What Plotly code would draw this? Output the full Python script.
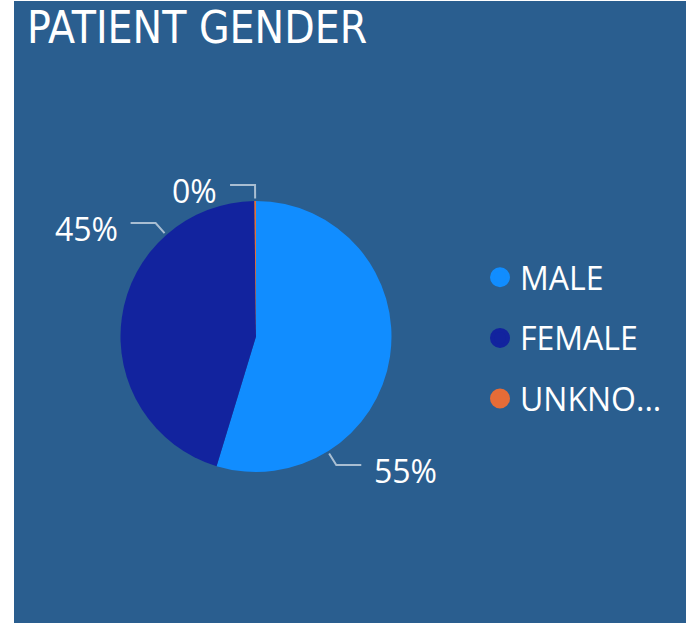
import math
import plotly.graph_objects as go

# ---- data ----
categories = ["MALE", "FEMALE", "UNKNOWN"]
values = [54.7, 45.1, 0.2]
legend_labels = ["MALE", "FEMALE", "UNKNO..."]
slice_colors = ["#118DFF", "#12239E", "#E66C37"]
title_text = "PATIENT GENDER"

# ---- layout / style constants ----
W, H = 687, 623
BG = "#2A5E8F"
CX, CY, R = 256.0, 336.5, 135.5          # pie centre and radius in px
LABEL_ANGLES = [148.0, 318.5, 359.64]     # leader-line angles (deg, clockwise from 12 o'clock)
LINE_COLOR = "rgba(255,255,255,0.6)"
LABEL_FONT = dict(family="Segoe UI, Open Sans, sans-serif", size=32, color="white")


def px_x(x):
    return x / W


def px_y(y):
    return 1 - y / H


fig = go.Figure()

fig.add_trace(go.Pie(
    labels=categories,
    values=values,
    sort=False,
    direction="clockwise",
    rotation=0,
    marker=dict(colors=slice_colors, line=dict(width=0)),
    textinfo="none",
    hoverinfo="label+percent",
    showlegend=False,
    domain=dict(x=[px_x(CX - R), px_x(CX + R)], y=[px_y(CY + R), px_y(CY - R)]),
))

# legend entries with round markers
for name, col in zip(legend_labels, slice_colors):
    fig.add_trace(go.Scatter(
        x=[None], y=[None], mode="markers", name=name, legendgroup=name,
        marker=dict(symbol="circle", size=16, color=col, line=dict(color=col, width=4)),
    ))

total = sum(values)
shapes = [dict(type="rect", xref="paper", yref="paper", layer="below",
               x0=px_x(14), x1=px_x(686), y0=0, y1=px_y(1),
               fillcolor=BG, line=dict(width=0))]
annotations = [dict(text=title_text, xref="paper", yref="paper",
                    x=px_x(25), y=px_y(27.5), xanchor="left", yanchor="middle",
                    showarrow=False,
                    font=dict(family="DejaVu Sans Condensed", size=44, color="white"))]

for v, ang in zip(values, LABEL_ANGLES):
    a = math.radians(ang)
    s, c = math.sin(a), math.cos(a)
    r1, r2 = R + 2.5, R + 16
    x1, y1 = CX + r1 * s, CY - r1 * c
    x2, y2 = CX + r2 * s, CY - r2 * c
    side = 1 if s > 0 else -1
    x3 = x2 + side * 25
    shapes.append(dict(type="path", xref="paper", yref="paper",
                       path=f"M {px_x(x1)},{px_y(y1)} L {px_x(x2)},{px_y(y2)} L {px_x(x3)},{px_y(y2)}",
                       line=dict(color=LINE_COLOR, width=2)))
    pct = f"{round(v / total * 100):.0f}%"
    annotations.append(dict(text=pct, xref="paper", yref="paper",
                            x=px_x(x3 + side * 11), y=px_y(y2 + 5.5),
                            xanchor="left" if side > 0 else "right", yanchor="middle",
                            showarrow=False, font=LABEL_FONT))

fig.update_layout(
    width=W, height=H,
    margin=dict(l=0, r=0, t=0, b=0),
    paper_bgcolor="white",
    plot_bgcolor="rgba(0,0,0,0)",
    xaxis=dict(visible=False),
    yaxis=dict(visible=False),
    shapes=shapes,
    annotations=annotations,
    showlegend=True,
    legend=dict(
        x=px_x(480), y=px_y(338), xanchor="left", yanchor="middle",
        font=dict(family="Segoe UI, Open Sans, sans-serif", size=32, color="white"),
        bgcolor="rgba(0,0,0,0)", itemwidth=30, tracegroupgap=16,
        itemclick=False, itemdoubleclick=False,
    ),
)

fig.write_html("out.html", config={"displayModeBar": False},
               post_script="document.body.style.margin='0';")
